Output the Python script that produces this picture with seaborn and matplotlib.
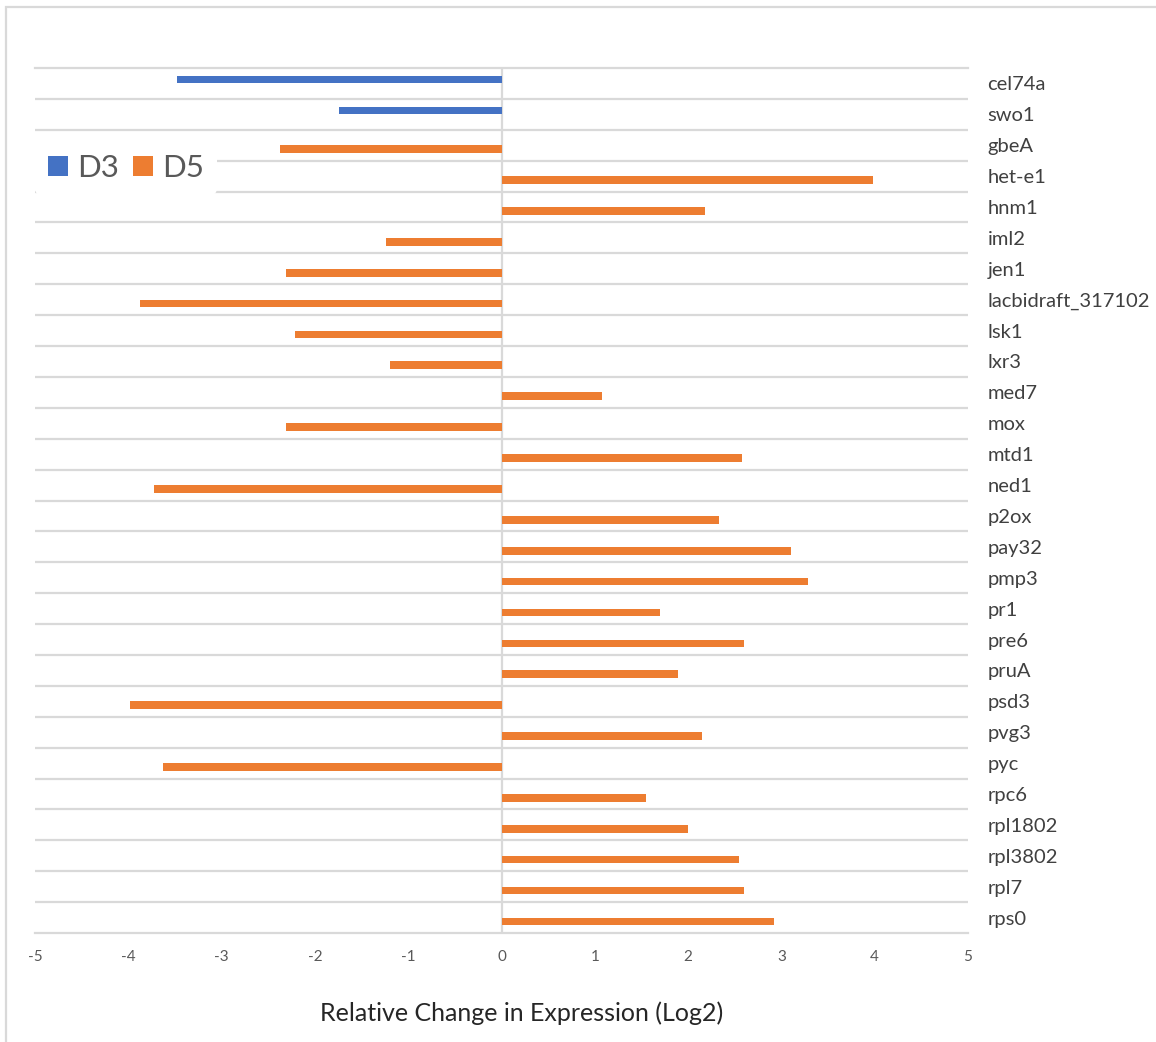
import numpy as np
import pandas as pd
import matplotlib
matplotlib.use("Agg")
import matplotlib.pyplot as plt
import seaborn as sns
from matplotlib.ticker import FixedLocator
from matplotlib.patches import Rectangle

genes = ["cel74a", "swo1", "gbeA", "het-e1", "hnm1", "iml2", "jen1",
         "lacbidraft_317102", "lsk1", "lxr3", "med7", "mox", "mtd1", "ned1",
         "p2ox", "pay32", "pmp3", "pr1", "pre6", "pruA", "psd3", "pvg3",
         "pyc", "rpc6", "rpl1802", "rpl3802", "rpl7", "rps0"]
series = ["D3", "D3"] + ["D5"] * 26
values = [-3.48, -1.74, -2.37, 3.98, 2.18, -1.24, -2.31,
          -3.87, -2.21, -1.20, 1.08, -2.31, 2.58, -3.72,
          2.33, 3.10, 3.29, 1.70, 2.60, 1.89, -3.98, 2.15,
          -3.63, 1.55, 2.00, 2.55, 2.60, 2.92]
hue_levels = ["D3", "D5"]
colors = {"D3": "#4472C4", "D5": "#ED7D31"}
x_ticks = list(range(-5, 6))

df = pd.DataFrame({"gene": genes, "series": series, "value": values})

sns.set_theme(style="white")
plt.rcParams['font.family'] = ['Lato', 'DejaVu Sans']

W, H = 1156, 1042
fig = plt.figure(figsize=(W / 100, H / 100), dpi=100)
fig.patch.set_facecolor("white")
ax = fig.add_axes([35 / W, 1 - 933 / H, (968 - 35) / W, (933 - 68) / H])

sns.barplot(data=df, y="gene", x="value", hue="series", hue_order=hue_levels,
            order=genes, palette=colors, width=0.5, dodge=True, orient="h",
            ax=ax, linewidth=0, saturation=1, errorbar=None)

ax.set_xlim(-5, 5)
ax.set_ylim(len(genes) - 0.5, -0.5)
ax.set_xticks(x_ticks)
ax.set_xticklabels([str(t) for t in x_ticks])
ax.tick_params(axis='x', length=0, pad=12, labelsize=11, labelcolor="#595959")
ax.yaxis.tick_right()
ax.tick_params(axis='y', which='major', length=0, pad=14, labelsize=14.5,
               labelcolor="#404040")
ax.set_ylabel("")

for s in ["left", "right"]:
    ax.spines[s].set_visible(False)
for s in ["top", "bottom"]:
    ax.spines[s].set_visible(True)
    ax.spines[s].set_color("#d9d9d9")
    ax.spines[s].set_linewidth(1.6)

ax.grid(False)
ax.yaxis.set_minor_locator(FixedLocator(np.arange(0.5, len(genes) - 1, 1)))
ax.tick_params(axis='y', which='minor', length=0)
ax.grid(which='minor', axis='y', color="#d9d9d9", linewidth=1.6)
ax.set_axisbelow(True)
ax.axvline(0, color="#d9d9d9", linewidth=1.6, zorder=0.5)

ax.set_xlabel("Relative Change in Expression (Log2)", fontsize=18, color="#262626")
ax.xaxis.set_label_coords((522 - 35) / (968 - 35), (933 - 1013) / (933 - 68))
ax.xaxis.label.set_va("center")

handles, labels = ax.get_legend_handles_labels()
if ax.legend_ is not None:
    ax.legend_.remove()
fig.legend(handles, labels, loc="center left",
           bbox_to_anchor=(35 / W, 1 - 168 / H), ncol=2, frameon=True,
           facecolor="white", edgecolor="none", framealpha=1, fontsize=22.5,
           handlelength=0.64, handleheight=0.64, handletextpad=0.3,
           columnspacing=0.45, labelcolor="#595959", borderpad=0.4,
           borderaxespad=0)

fig.add_artist(Rectangle((6 / W, -0.01), 1.02, 1 - 7 / H + 0.01,
                         transform=fig.transFigure, fill=False,
                         edgecolor="#d9d9d9", linewidth=1.6, clip_on=False))

fig.savefig("out.png", dpi=100, facecolor="white")
